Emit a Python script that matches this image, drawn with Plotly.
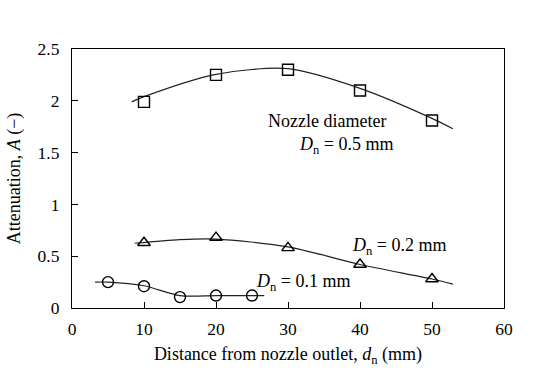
import plotly.graph_objects as go

# Measured points
x05 = [10, 20, 30, 40, 50]
y05 = [1.99, 2.25, 2.30, 2.10, 1.81]
x02 = [10, 20, 30, 40, 50]
y02 = [0.63, 0.68, 0.58, 0.42, 0.28]
x01 = [5, 10, 15, 20, 25]
y01 = [0.25, 0.21, 0.105, 0.12, 0.12]

# Fitted curves
cx05 = [8.3, 10, 20, 30, 40, 50, 52.9]
cy05 = [1.99, 2.04, 2.255, 2.31, 2.12, 1.83, 1.73]
cx02 = [8.7, 15, 20, 30, 40, 50, 52.9]
cy02 = [0.625, 0.66, 0.665, 0.59, 0.42, 0.28, 0.23]
cx01 = [3.2, 5, 10, 15, 20, 25, 26.7]
cy01 = [0.25, 0.25, 0.215, 0.12, 0.12, 0.12, 0.12]

font_family = "Liberation Serif"
lc = "#222222"

fig = go.Figure()
for cx, cy in [(cx05, cy05), (cx02, cy02), (cx01, cy01)]:
    fig.add_trace(go.Scatter(x=cx, y=cy, mode="lines", line=dict(color=lc, width=1.2, shape="spline", smoothing=0.8),
                             showlegend=False, hoverinfo="skip"))
for xs, ys, sym, sz in [(x05, y05, "square-open", 11), (x02, y02, "triangle-up-open", 11), (x01, y01, "circle-open", 11)]:
    fig.add_trace(go.Scatter(x=xs, y=ys, mode="markers",
                             marker=dict(symbol=sym, size=sz, color="black", line=dict(width=1.4, color="black")),
                             showlegend=False))

ann_font = dict(family=font_family, size=18, color="black")
fig.add_annotation(x=27.0, y=1.805, text="Nozzle diameter", showarrow=False, xanchor="left", yanchor="middle", font=ann_font)
fig.add_annotation(x=31.2, y=1.57, text="<i>D</i><sub>n</sub> = 0.5 mm", showarrow=False, xanchor="left", yanchor="middle", font=ann_font)
fig.add_annotation(x=38.6, y=0.59, text="<i>D</i><sub>n</sub> = 0.2 mm", showarrow=False, xanchor="left", yanchor="middle", font=ann_font)
fig.add_annotation(x=25.3, y=0.25, text="<i>D</i><sub>n</sub> = 0.1 mm", showarrow=False, xanchor="left", yanchor="middle", font=ann_font)

axis_common = dict(showgrid=False, zeroline=False, showline=True, linecolor="black", linewidth=1.2, mirror=True,
                   ticks="inside", ticklen=6, tickcolor="black", tickwidth=1, automargin=False,
                   tickfont=dict(family=font_family, size=17.5, color="black"))

fig.update_layout(
    width=554, height=371,
    margin=dict(l=72, r=50, t=49, b=63),
    paper_bgcolor="white", plot_bgcolor="white",
    font=dict(family=font_family, color="black"),
    xaxis=dict(range=[0, 60], tickvals=[0, 10, 20, 30, 40, 50, 60], ticklabelstandoff=5,
               title=dict(text="Distance from nozzle outlet, <i>d</i><sub>n</sub> (mm)",
                          font=dict(family=font_family, size=18, color="black"), standoff=9),
               **axis_common),
    yaxis=dict(range=[0, 2.5], tickvals=[0, 0.5, 1, 1.5, 2, 2.5], ticklabelstandoff=8,
               title=dict(text="Attenuation, <i>A</i> (\u2212)",
                          font=dict(family=font_family, size=18, color="black"), standoff=12),
               **axis_common),
)

fig.write_html("out.html", config={"displayModeBar": False},
               post_script="document.body.style.margin='0';document.body.style.overflow='hidden';")
